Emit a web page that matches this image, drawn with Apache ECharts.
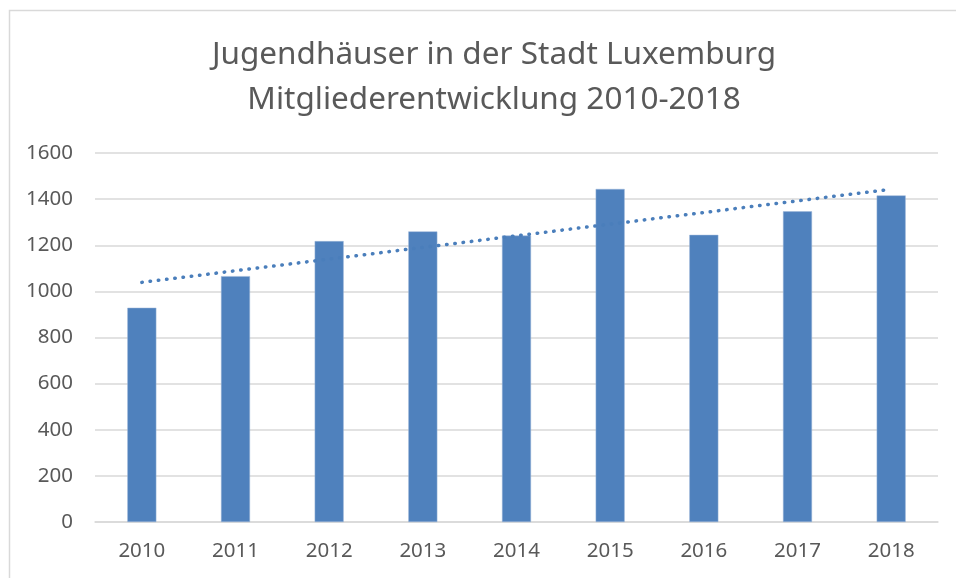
<!DOCTYPE html>
<html>
<head>
<meta charset="utf-8">
<script src="https://cdn.jsdelivr.net/npm/echarts@6/dist/echarts.min.js"></script>
<style>
  html, body { margin: 0; padding: 0; background: #fff; }
  #chart { width: 956px; height: 578px; }
</style>
</head>
<body>
<div id="chart"></div>
<script>
// Mitglieder pro Jahr
var years = ["2010", "2011", "2012", "2013", "2014", "2015", "2016", "2017", "2018"];
var members = [929, 1066, 1218, 1260, 1242, 1444, 1245, 1347, 1416];
// linearer Trend (Endpunkte)
var trend = [1039, null, null, null, null, null, null, null, 1443];

var titleLines = ["Jugendhäuser in der Stadt Luxemburg", "Mitgliederentwicklung 2010-2018"];

var myChart = echarts.init(document.getElementById("chart"));
var option = {
  backgroundColor: "#fff",
  animation: false,
  title: {
    text: titleLines.join("\n"),
    left: 489,
    top: 28,
    textAlign: "center",
    textStyle: {
      fontFamily: "Noto Sans",
      fontSize: 31.5,
      fontWeight: "normal",
      color: "#595959",
      lineHeight: 45,
    },
  },
  graphic: [
    {
      type: "rect",
      left: 7,
      top: 8,
      shape: { width: 1000, height: 620 },
      style: { fill: "none", stroke: "#d9d9d9", lineWidth: 1.5 },
      silent: true,
    },
  ],
  grid: {
    left: 95,
    right: 18,
    top: 153,
    bottom: 56,
  },
  xAxis: {
    type: "category",
    data: years,
    axisLine: { lineStyle: { color: "#d9d9d9", width: 1.5 } },
    axisTick: { show: false },
    axisLabel: {
      margin: 19,
      fontFamily: "Noto Sans",
      fontSize: 20.5,
      color: "#595959",
    },
  },
  yAxis: {
    type: "value",
    min: 0,
    max: 1600,
    interval: 200,
    axisLine: { show: false },
    axisTick: { show: false },
    splitLine: { lineStyle: { color: "#d9d9d9", width: 1.5 } },
    axisLabel: {
      margin: 22,
      fontFamily: "Noto Sans",
      fontSize: 20.5,
      color: "#595959",
      formatter: function (v) { return String(v); },
    },
  },
  series: [
    {
      name: "Mitglieder",
      type: "bar",
      data: members,
      barWidth: 29,
      itemStyle: { color: "#4f81bd", borderColor: "#9db6d9", borderWidth: 0.5 },
    },
    {
      name: "Trend",
      type: "line",
      data: trend,
      connectNulls: true,
      symbol: "none",
      lineStyle: { color: "#4a7ebb", width: 3.5, type: [0.5, 7.8], cap: "round" },
    },
  ],
};
myChart.setOption(option);
</script>
</body>
</html>
